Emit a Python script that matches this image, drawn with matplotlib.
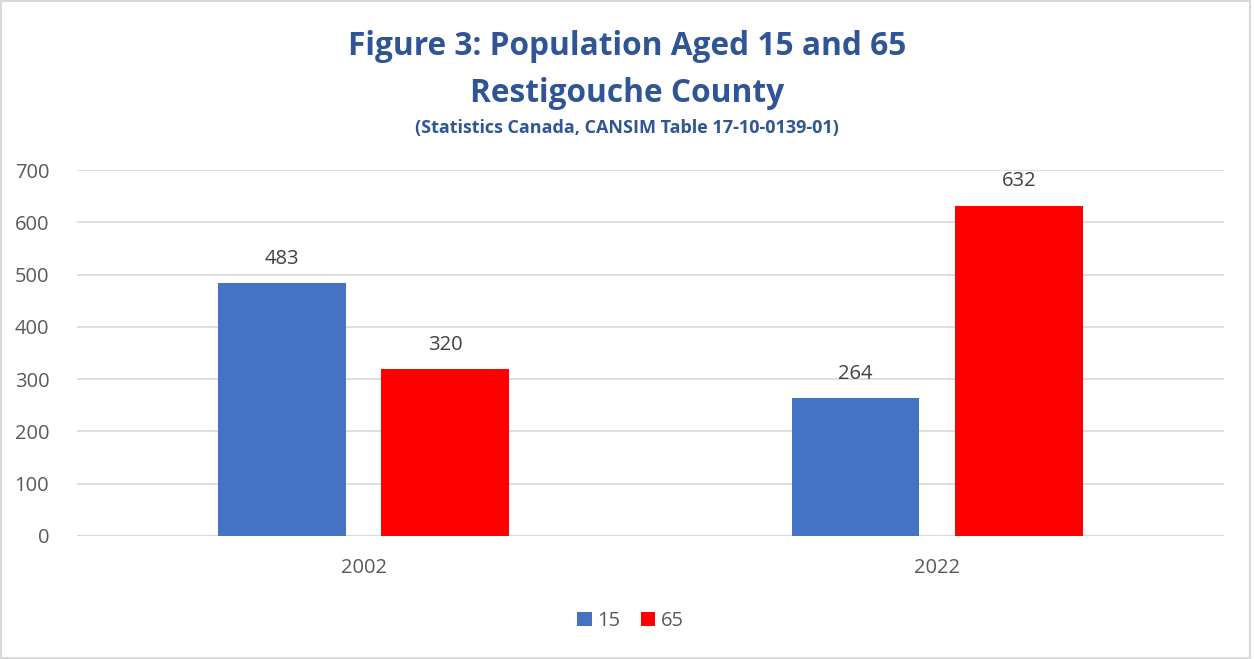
import matplotlib.pyplot as plt
import numpy as np
from matplotlib.patches import Rectangle

years = ['2002', '2022']
series_names = ['15', '65']
aged_15 = [483, 264]
aged_65 = [320, 632]
colors = ['#4472C4', '#FF0000']

plt.rcParams['font.family'] = ['Open Sans', 'DejaVu Sans']

fig = plt.figure(figsize=(12.54, 6.59), dpi=100)
ax = fig.add_axes([0.0614, 0.1867, 0.9146, 0.5553])

x = np.arange(len(years))
width = 0.223
offset = 0.1425
for vals, name, col, off in zip([aged_15, aged_65], series_names, colors, [-offset, offset]):
  bars = ax.bar(x + off, vals, width, color=col, label=name, zorder=3)
  for b, v in zip(bars, vals):
    ax.text(b.get_x() + b.get_width() / 2, v + 27, str(v), ha='center', va='bottom',
            fontsize=14.5, color='#404040')

ax.set_xlim(-0.5, 1.5)
ax.set_ylim(0, 700)
ax.set_yticks(range(0, 701, 100))
ax.set_xticks(x)
ax.set_xticklabels(years)
ax.grid(axis='y', color='#D9D9D9', linewidth=1.2, zorder=0)
ax.tick_params(axis='both', length=0, labelsize=14.5, labelcolor='#595959')
ax.tick_params(axis='y', pad=20)
ax.tick_params(axis='x', pad=16)
for s in ax.spines.values():
  s.set_visible(False)
ax.axhline(0, color='#D9D9D9', linewidth=1.2, zorder=1)

# titles
fig.text(0.5, 0.929, 'Figure 3: Population Aged 15 and 65', ha='center', va='center',
         fontsize=22.8, fontweight='bold', color='#2F5597')
fig.text(0.5, 0.858, 'Restigouche County', ha='center', va='center',
         fontsize=22.8, fontweight='bold', color='#2F5597')
fig.text(0.5, 0.806, '(Statistics Canada, CANSIM Table 17-10-0139-01)', ha='center', va='center',
         fontsize=13, fontweight='bold', color='#2F5597')

fig.legend(loc='center', bbox_to_anchor=(0.503, 0.058), ncol=2, frameon=False,
           fontsize=14.5, handlelength=0.7, handleheight=0.7, handletextpad=0.3,
           columnspacing=1.0, labelcolor='#595959')

# light border round the chart
fig.patches.append(Rectangle((0.001, 0.002), 0.996, 0.996, transform=fig.transFigure,
                             fill=False, edgecolor='#D9D9D9', linewidth=1.5))

fig.savefig('out.png', dpi=100)
